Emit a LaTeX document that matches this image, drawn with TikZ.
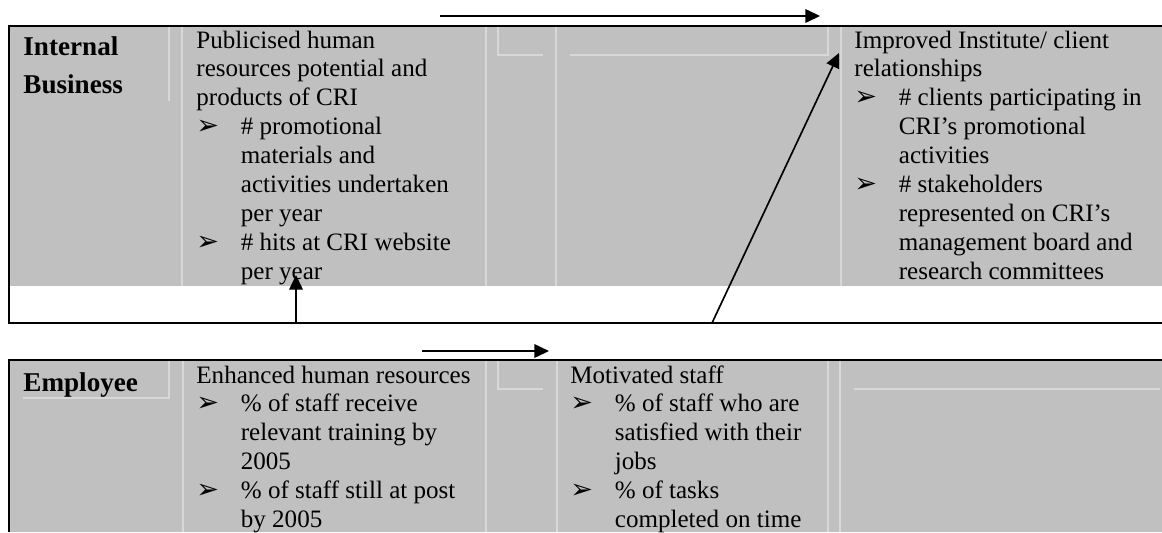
\documentclass[tikz,border=0pt]{standalone}
\usepackage{fontspec}
\setmainfont{Liberation Serif}
\newfontfamily\dingfont{DejaVu Sans}
\usetikzlibrary{arrows.meta}
\newlength\hangwd
\setlength\hangwd{21.3pt}
% bullet with its hanging indent, and the indent alone for wrapped lines
\newcommand\bul{\makebox[\hangwd][l]{\dingfont\fontsize{13}{13}\selectfont ➢}}
\newcommand\ind{\hspace*{\hangwd}}
\definecolor{cellgray}{HTML}{C0C0C0}
\definecolor{rulegray}{HTML}{D8D8D8}
\begin{document}
\begin{tikzpicture}[x=0.479pt,y=-0.479pt,
  % multi-line nodes are placed by the baseline of their last line
  celltext/.style={anchor=base west, align=left, inner sep=0pt,
    font=\fontsize{12}{13.84}\selectfont},
  rowlabel/.style={anchor=base west, align=left, inner sep=0pt,
    font=\fontsize{13}{18.2}\selectfont\bfseries},
  framing/.style={line width=1.1pt},
  cellrule/.style={draw=rulegray, line width=0.5pt},
  link/.style={line width=0.8pt, -{Triangle[length=7pt,width=6.5pt]}}]
\useasboundingbox (0,0) rectangle (1162,532);

% ---------- Internal Business row ----------
\fill[cellgray] (10,27) rectangle (1162,286);
\draw[cellrule] (169,27) -- (169,101);
\draw[cellrule] (182,27) -- (182,286);
\draw[cellrule] (486,27) -- (486,286);
\draw[cellrule] (498,27) -- (498,55) -- (543,55);
\draw[cellrule] (556,27) -- (556,286);
\draw[cellrule] (570,55) -- (828,55) -- (828,27);
\draw[cellrule] (841,27) -- (841,286);
\draw[framing] (1162,26) -- (9,26) -- (9,323) -- (1162,323);

\node[rowlabel] (ib) at (23,93) {Internal\\Business};
\node[celltext] (pub) at (196,279.2) {Publicised human\\
resources potential and\\
products of CRI\\
\bul\# promotional\\
\ind materials and\\
\ind activities undertaken\\
\ind per year\\
\bul\# hits at CRI website\\
\ind per year};
\node[celltext] (rel) at (854,279.2) {Improved Institute/ client\\
relationships\\
\bul\# clients participating in\\
\ind CRI’s promotional\\
\ind activities\\
\bul\# stakeholders\\
\ind represented on CRI’s\\
\ind management board and\\
\ind research committees};

% ---------- Employee row ----------
\fill[cellgray] (10,361) rectangle (1162,532);
\draw[cellrule] (169,361) -- (169,398) -- (23,398);
\draw[cellrule] (183,361) -- (183,532);
\draw[cellrule] (486,361) -- (486,532);
\draw[cellrule] (498,361) -- (498,389) -- (543,389);
\draw[cellrule] (557,361) -- (557,532);
\draw[cellrule] (828,361) -- (828,532);
\draw[cellrule] (840,361) -- (840,532);
\draw[cellrule] (854,389) -- (1160,389);
\draw[framing] (1162,360) -- (9,360) -- (9,532);

\node[rowlabel] (emp) at (23,391) {Employee};
\node[celltext] (enh) at (196,527.5) {Enhanced human resources\\
\bul\% of staff receive\\
\ind relevant training by\\
\ind 2005\\
\bul\% of staff still at post\\
\ind by 2005};
\node[celltext] (mot) at (570,527.5) {Motivated staff\\
\bul\% of staff who are\\
\ind satisfied with their\\
\ind jobs\\
\bul\% of tasks\\
\ind completed on time};

% ---------- cause-and-effect arrows ----------
\coordinate (topA) at (440,16);
\coordinate (topB) at (820,16);
\coordinate (botA) at (422,351);
\coordinate (botB) at (549,351);
\coordinate (upA) at (296,323);
\coordinate (upB) at (296,275);
\coordinate (diagA) at (712,323);
\coordinate (diagB) at (839,53);
\draw[link] (topA) -- (topB);
\draw[link] (botA) -- (botB);
\draw[link] (upA) -- (upB);
\draw[link] (diagA) -- (diagB);
\end{tikzpicture}
\end{document}
